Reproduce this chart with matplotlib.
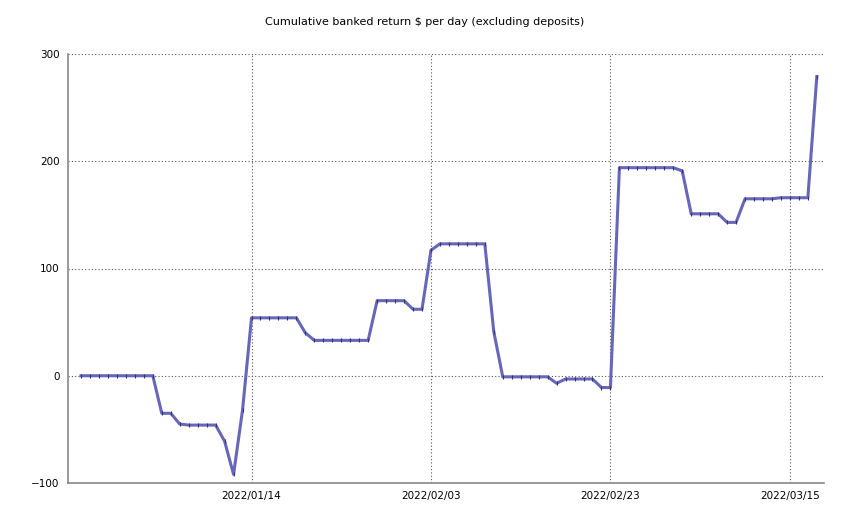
import matplotlib.pyplot as plt
import matplotlib.dates as mdates
from datetime import datetime, timedelta
import numpy as np

start = datetime(2021, 12, 26)
values = [0, 0, 0, 0, 0, 0, 0, 0, 0, -35, -35, -45, -46, -46, -46, -46, -61, -92, -32,
          54, 54, 54, 54, 54, 54, 40, 33, 33, 33, 33, 33, 33, 33, 70, 70, 70, 70, 62, 62,
          117, 123, 123, 123, 123, 123, 123, 41, -1, -1, -1, -1, -1, -1, -7, -3, -3, -3, -3,
          -11, -11, 194, 194, 194, 194, 194, 194, 194, 191, 151, 151, 151, 151, 143, 143,
          165, 165, 165, 165, 166, 166, 166, 166, 279]
dates = [start + timedelta(days=i) for i in range(len(values))]
tick_dates = [datetime(2022, 1, 14), datetime(2022, 2, 3), datetime(2022, 2, 23), datetime(2022, 3, 15)]

plt.rcParams['font.family'] = ['DejaVu Sans']
fig = plt.figure(figsize=(8.5, 5.28), dpi=100)
ax = fig.add_axes([68 / 850, 45 / 528, 756 / 850, 429 / 528])

ax.plot(dates, values, color="#6666bb", linewidth=2.2, marker="|", markersize=2.5,
        markeredgecolor="#333366", markeredgewidth=0.8)

ax.set_ylim(-100, 300)
ax.set_yticks([-100, 0, 100, 200, 300])
ax.set_xlim(start - timedelta(days=1.45), start + timedelta(days=82.8))
ax.set_xticks(tick_dates)
ax.xaxis.set_major_formatter(mdates.DateFormatter("%Y/%m/%d"))
ax.grid(True, linestyle=(0, (1, 2)), color="#555555", linewidth=0.8)
ax.tick_params(labelsize=7.5, length=0, pad=6)
for s in ["top", "right"]:
    ax.spines[s].set_visible(False)
for s in ["left", "bottom"]:
    ax.spines[s].set_color("#888888")
    ax.spines[s].set_linewidth(1.2)

fig.text(0.5, 1 - 22 / 528, "Cumulative banked return $ per day (excluding deposits)",
         ha="center", va="center", fontsize=8)
fig.savefig("out.png")
